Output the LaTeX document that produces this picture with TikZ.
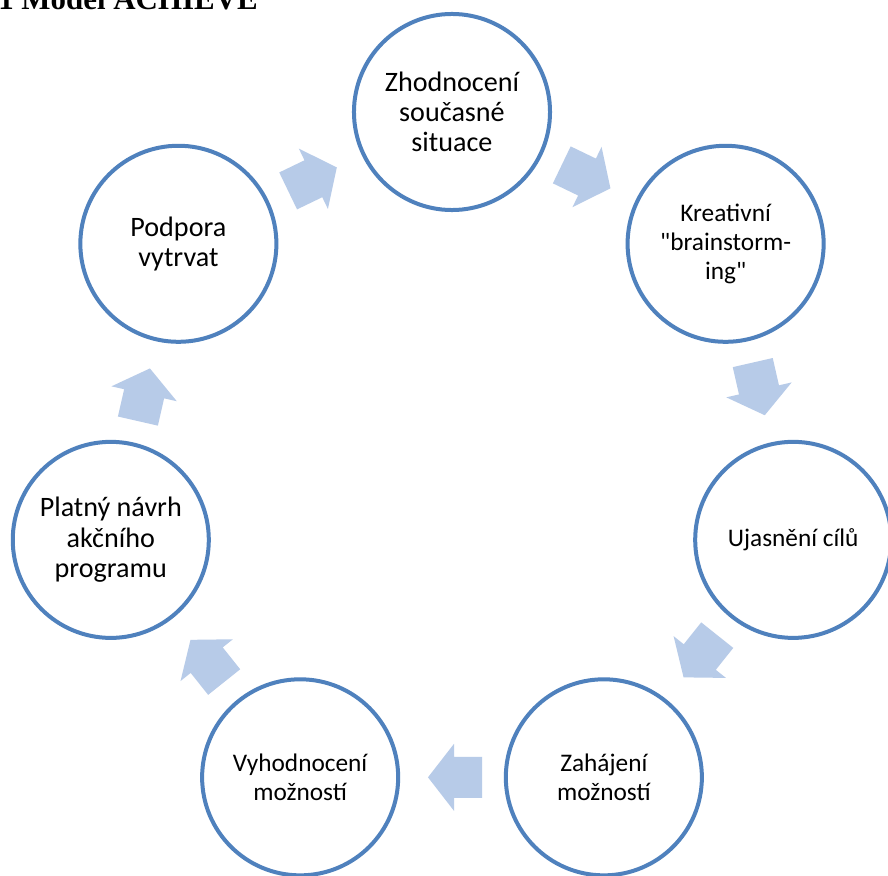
\documentclass[tikz,border=0pt]{standalone}
\usepackage{fontspec}
\setmainfont{Carlito}[Ligatures=TeXOff]
\newfontfamily\captionserif{Liberation Serif}
\usetikzlibrary{calc}
\definecolor{ringblue}{RGB}{79,129,189}
\definecolor{arrowblue}{RGB}{183,203,232}

\begin{document}
\begin{tikzpicture}[x=0.025cm, y=0.025cm,
  phase/.style={circle, draw=ringblue, line width=0.1cm, fill=white,
    minimum size=4.9cm, inner sep=0pt, align=center},
  big/.style={font=\fontsize{20}{21.5}\selectfont},
  small/.style={font=\fontsize{18}{20.5}\selectfont},
  flow/.style={fill=arrowblue}]
  \useasboundingbox (-452,-413) rectangle (436,462);
  \fill[white] (-452,-413) rectangle (436,462);
  % caption cut off by the page edge
  \node[anchor=base west, inner sep=0pt,
    font=\captionserif\bfseries\fontsize{22}{26}\selectfont] (title) at (-454,452) {1 Model ACHIEVE};
  % the seven phases round the ring
  \node[phase, big]   (c0) at (90:350)            {Zhodnocení\\současné\\situace};
  \node[phase, small] (c1) at ({90-360/7}:350)    {Kreativní\\"brainstorm-\\ing"};
  \node[phase, small] (c2) at ({90-2*360/7}:350)  {Ujasnění cílů};
  \node[phase, small] (c3) at ({90-3*360/7}:350)  {Zahájení\\možností};
  \node[phase, small] (c4) at ({90-4*360/7}:350)  {Vyhodnocení\\možností};
  \node[phase, big]   (c5) at ({90-5*360/7}:350)  {Platný návrh\\akčního\\programu};
  \node[phase, big]   (c6) at ({90-6*360/7}:350)  {Podpora\\vytrvat};
  % block arrows between neighbours
  \foreach \i/\j in {0/1,1/2,2/3,3/4,4/5,5/6,6/0} {
    \pgfmathsetmacro\a{90-(\i+0.5)*360/7}
    \fill[flow, shift={($(c\i)!0.5!(c\j)$)}, rotate=\a-90]
      (-30,-20.5) -- (-2,-20.5) -- (-2,-33.5) -- (24,0)
      -- (-2,33.5) -- (-2,20.5) -- (-30,20.5) -- cycle;
  }
\end{tikzpicture}
\end{document}
